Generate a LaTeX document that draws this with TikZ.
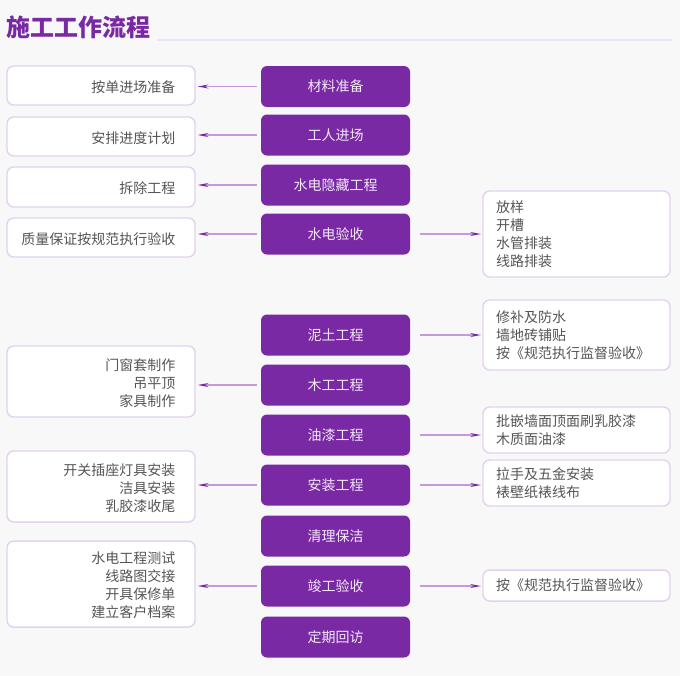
\documentclass[tikz,border=0pt]{standalone}
\usepackage{fontspec}
\setmainfont{Noto Sans CJK SC}
\usetikzlibrary{arrows.meta}
\definecolor{bgc}{HTML}{F8F8F8}
\definecolor{pur}{HTML}{7A29A4}
\definecolor{purtxt}{HTML}{F2E8F8}
\definecolor{lav}{HTML}{E3D3F0}
\definecolor{linec}{HTML}{C49AD9}
\definecolor{greyt}{HTML}{555555}
\definecolor{ulc}{HTML}{EDE3F5}
\tikzset{
  stepbox/.style={fill=pur, text=purtxt, rounded corners=4.5pt, minimum width=111.75pt, minimum height=30.75pt, inner sep=0pt, font=\fontsize{10.5}{13.5}\selectfont},
  leftbox/.style={draw=lav, line width=1.1pt, fill=white, rounded corners=5pt, minimum width=141pt, minimum height=#1, inner sep=0pt},
  lefttxt/.style={anchor=east, text=greyt, align=right, inner sep=0pt, font=\fontsize{10.5}{13.5}\selectfont},
  rightbox/.style={draw=lav, line width=1.1pt, fill=white, rounded corners=5pt, text=greyt, text width=120.75pt, align=left, inner xsep=9.75pt, inner ysep=0pt, minimum height=#1, font=\fontsize{10.5}{13.5}\selectfont},
  conn/.style={draw=linec, line width=0.9pt, -{Stealth[length=8pt,width=3pt,color=pur]}},
}
\begin{document}
\begin{tikzpicture}[x=0.75pt,y=-0.75pt]
\useasboundingbox[fill=bgc] (0,0) rectangle (680,676);
% title
\node[anchor=west, inner sep=0pt, text=pur, font=\fontsize{18}{20}\bfseries\selectfont] (title) at (6,27) {施工工作流程};
\coordinate (ulA) at (157,40);
\coordinate (ulB) at (672,40);
\draw[ulc, line width=1.5pt] (ulA) -- (ulB);
% central steps
\node[stepbox] (p1) at (335.5,86.5) {材料准备};
\node[stepbox] (p2) at (335.5,135) {工人进场};
\node[stepbox] (p3) at (335.5,185) {水电隐藏工程};
\node[stepbox] (p4) at (335.5,234) {水电验收};
\node[stepbox] (p5) at (335.5,335) {泥土工程};
\node[stepbox] (p6) at (335.5,385) {木工工程};
\node[stepbox] (p7) at (335.5,435) {油漆工程};
\node[stepbox] (p8) at (335.5,485) {安装工程};
\node[stepbox] (p9) at (335.5,536) {清理保洁};
\node[stepbox] (p10) at (335.5,586) {竣工验收};
\node[stepbox] (p11) at (335.5,637) {定期回访};
% left boxes
\node[leftbox=29.25pt] (l1) at (101,85.5) {};
\node[leftbox=29.25pt] (l2) at (101,136.5) {};
\node[leftbox=30pt] (l3) at (101,187) {};
\node[leftbox=29.25pt] (l4) at (101,237.5) {};
\node[leftbox=53.25pt] (l5) at (101,381.5) {};
\node[leftbox=53.25pt] (l6) at (101,486.5) {};
\node[leftbox=64.5pt] (l7) at (101,584) {};
\node[lefttxt] (t1) at ([xshift=-15pt,yshift=-1.5pt]l1.east) {按单进场准备};
\node[lefttxt] (t2) at ([xshift=-15pt,yshift=-1pt]l2.east) {安排进度计划};
\node[lefttxt] (t3) at ([xshift=-15pt,yshift=-1pt]l3.east) {拆除工程};
\node[lefttxt] (t4) at ([xshift=-15pt,yshift=-1pt]l4.east) {质量保证按规范执行验收};
\node[lefttxt] (t5) at ([xshift=-15pt,yshift=-1pt]l5.east) {门窗套制作\\吊平顶\\家具制作};
\node[lefttxt] (t6) at ([xshift=-15pt,yshift=-1pt]l6.east) {开关插座灯具安装\\洁具安装\\乳胶漆收尾};
\node[lefttxt] (t7) at ([xshift=-15pt,yshift=-1pt]l7.east) {水电工程测试\\线路图交接\\开具保修单\\建立客户档案};
% right boxes
\node[rightbox=64.5pt] (r1) at (576.5,234) {放样\\开槽\\水管排装\\线路排装};
\node[rightbox=52.5pt] (r2) at (576.5,335) {修补及防水\\墙地砖铺贴\\按《规范执行监督验收》};
\node[rightbox=34.5pt] (r3) at (576.5,430) {批嵌墙面顶面刷乳胶漆\\木质面油漆};
\node[rightbox=34.5pt] (r4) at (576.5,483) {拉手及五金安装\\裱壁纸裱线布};
\node[rightbox=23.25pt] (r5) at (576.5,585.5) {按《规范执行监督验收》};
% connectors to the left
\draw[conn, shorten <=3pt, shorten >=1.5pt] (p1.west) -- (p1.west -| l1.east);
\draw[conn, shorten <=3pt, shorten >=1.5pt] (p2.west) -- (p2.west -| l2.east);
\draw[conn, shorten <=3pt, shorten >=1.5pt] (p3.west) -- (p3.west -| l3.east);
\draw[conn, shorten <=3pt, shorten >=1.5pt] (p4.west) -- (p4.west -| l4.east);
\draw[conn, shorten <=3pt, shorten >=1.5pt] (p6.west) -- (p6.west -| l5.east);
\draw[conn, shorten <=3pt, shorten >=1.5pt] (p8.west) -- (p8.west -| l6.east);
\draw[conn, shorten <=3pt, shorten >=1.5pt] (p10.west) -- (p10.west -| l7.east);
% connectors to the right
\draw[conn, shorten <=7.5pt, shorten >=1pt] (p4.east) -- (p4.east -| r1.west);
\draw[conn, shorten <=7.5pt, shorten >=1pt] (p5.east) -- (p5.east -| r2.west);
\draw[conn, shorten <=7.5pt, shorten >=1pt] (p7.east) -- (p7.east -| r3.west);
\draw[conn, shorten <=7.5pt, shorten >=1pt] (p8.east) -- (p8.east -| r4.west);
\draw[conn, shorten <=7.5pt, shorten >=1pt] (p10.east) -- (p10.east -| r5.west);
\end{tikzpicture}
\end{document}
